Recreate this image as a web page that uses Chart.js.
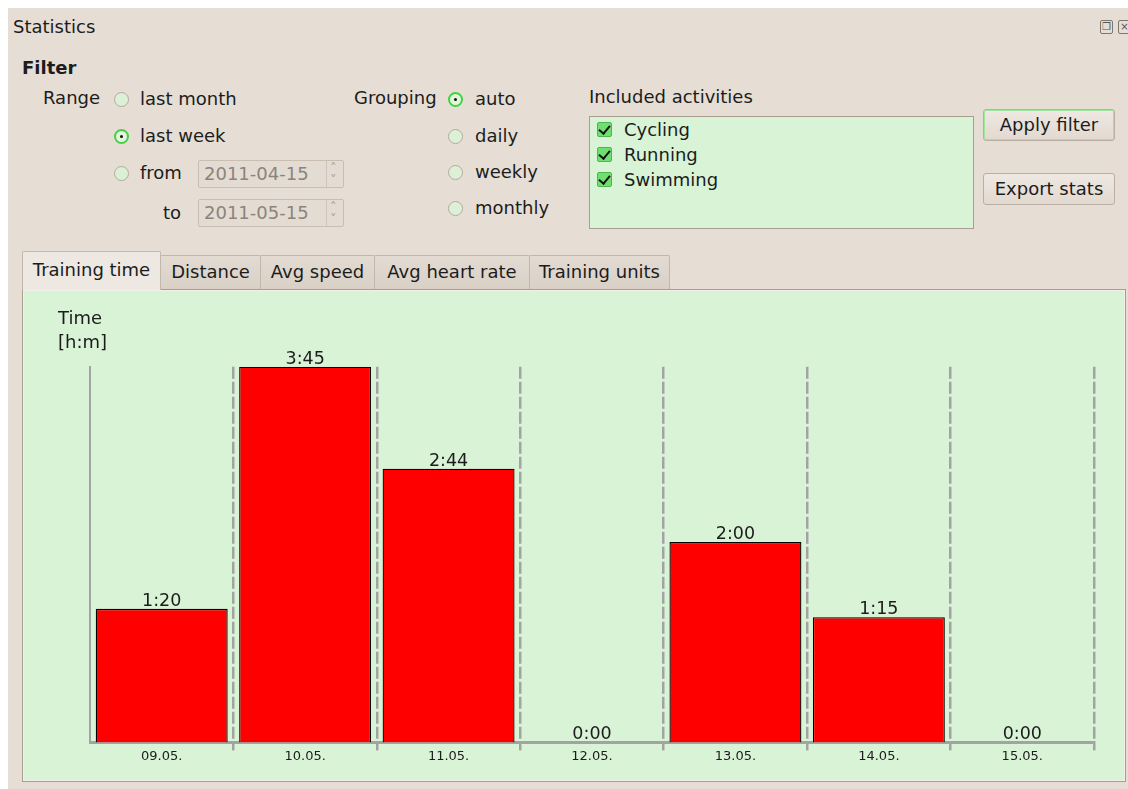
<!DOCTYPE html>
<html>
<head>
<meta charset="utf-8">
<title>Statistics</title>
<script src="https://cdn.jsdelivr.net/npm/chart.js@4.4.1/dist/chart.umd.min.js"></script>
<style>
  html, body { margin: 0; padding: 0; background: #fff; width: 1128px; height: 789px; overflow: hidden; }
  body { font-family: "DejaVu Sans", sans-serif; }
  #win { position: absolute; left: 8px; top: 8px; width: 1130px; height: 790px; background: #e6ded5; }
  .t { position: absolute; font-size: 18px; line-height: 20px; color: #1c1c1c; white-space: nowrap; }
  .radio { position: absolute; width: 13px; height: 13px; border-radius: 50%;
           border: 1px solid #b3aa9f; background: #dcf0d6; }
  .radio.on { border: 2px solid #45d045; width: 11px; height: 11px; background: #e2f5dd; }
  .radio.on::after { content: ""; position: absolute; left: 4px; top: 4px; width: 3px; height: 3px;
                     border-radius: 50%; background: #111; }
  .spin { position: absolute; width: 144px; height: 26px; border: 1px solid #c8beb2; border-radius: 2px;
          background: #e4dcd2; }
  .spin span { position: absolute; left: 5px; top: 3px; font-size: 18px; line-height: 20px; color: #8a847d; }
  .spin i { position: absolute; right: 0; top: 0; width: 16px; height: 26px; border-left: 1px solid #cfc6bb; }
  .spin i::before, .spin i::after { position: absolute; left: 3px; font-style: normal; font-size: 13px;
          color: #a49c93; line-height: 11px; }
  .spin i::before { content: "\02C4"; top: 1px; }
  .spin i::after { content: "\02C5"; top: 13px; }
  .check { position: absolute; width: 13px; height: 13px; background: #6fe06f; border: 1px solid #4cb84c;
           border-radius: 2px; }
  .check::after { content: ""; position: absolute; left: 3px; top: 0px; width: 5px; height: 9px;
                  border: solid #111; border-width: 0 2px 2px 0; transform: rotate(40deg); }
  .btn { position: absolute; width: 130px; height: 30px; border: 1px solid #b9afa4; border-radius: 3px;
         background: linear-gradient(#efe9e3, #e2d9cf); font-size: 18px; line-height: 30px; text-align: center;
         color: #1c1c1c; }
  .btn.def { box-shadow: inset 0 0 0 1px #9be89b; }
  .tab { position: absolute; top: 255px; height: 33px; border: 1px solid #c2b7aa; border-bottom: none;
         background: linear-gradient(#e3dbd2, #d9d0c6); font-size: 18px; line-height: 32px; text-align: center;
         color: #1c1c1c; border-radius: 2px 2px 0 0; }
  .tab.sel { top: 251px; height: 38px; background: #ede8e2; line-height: 36px; z-index: 2; }
  #panel { position: absolute; left: 22px; top: 289px; width: 1102px; height: 491px; background: #d9f3d6;
           border: 1px solid #a99d90; box-shadow: inset 0 0 0 1px #f4efe9; }
  #list { position: absolute; left: 589px; top: 116px; width: 383px; height: 111px; background: #d9f3d6;
          border: 1px solid #a99d90; }
  .wicon { position: absolute; top: 20px; width: 11px; height: 12px; border: 1px solid #7d7770; border-radius: 2px;
           font-size: 10px; line-height: 12px; text-align: center; color: #555; }
  #chartBox { position: absolute; left: 24px; top: 291px; width: 1100px; height: 489px; }
</style>
</head>
<body>
<div id="win"></div>

<div class="t" style="left:13px; top:17px;">Statistics</div>
<div class="wicon" style="left:1100px;">&#x2750;</div>
<div class="wicon" style="left:1118px;">&#x00D7;</div>

<div class="t" style="left:22px; top:58px; font-weight:bold;">Filter</div>

<div class="t" style="left:43px; top:88px;">Range</div>
<div class="radio" style="left:114px; top:92px;"></div>
<div class="t" style="left:140px; top:89px;">last month</div>
<div class="radio on" style="left:114px; top:129px;"></div>
<div class="t" style="left:140px; top:126px;">last week</div>
<div class="radio" style="left:114px; top:166px;"></div>
<div class="t" style="left:140px; top:163px;">from</div>
<div class="spin" style="left:198px; top:160px;"><span>2011-04-15</span><i></i></div>
<div class="t" style="left:163px; top:203px;">to</div>
<div class="spin" style="left:198px; top:199px;"><span>2011-05-15</span><i></i></div>

<div class="t" style="left:354px; top:88px;">Grouping</div>
<div class="radio on" style="left:448px; top:92px;"></div>
<div class="t" style="left:475px; top:89px;">auto</div>
<div class="radio" style="left:448px; top:129px;"></div>
<div class="t" style="left:475px; top:126px;">daily</div>
<div class="radio" style="left:448px; top:165px;"></div>
<div class="t" style="left:475px; top:162px;">weekly</div>
<div class="radio" style="left:448px; top:201px;"></div>
<div class="t" style="left:475px; top:198px;">monthly</div>

<div class="t" style="left:589px; top:87px;">Included activities</div>
<div id="list"></div>
<div class="check" style="left:597px; top:122px;"></div>
<div class="t" style="left:624px; top:120px;">Cycling</div>
<div class="check" style="left:597px; top:147px;"></div>
<div class="t" style="left:624px; top:145px;">Running</div>
<div class="check" style="left:597px; top:172px;"></div>
<div class="t" style="left:624px; top:170px;">Swimming</div>

<div class="btn def" style="left:983px; top:109px;">Apply filter</div>
<div class="btn" style="left:983px; top:173px;">Export stats</div>

<div id="panel"></div>
<div class="tab sel" style="left:22px; width:137px;">Training time</div>
<div class="tab" style="left:160px; width:99px;">Distance</div>
<div class="tab" style="left:260px; width:113px;">Avg speed</div>
<div class="tab" style="left:374px; width:154px;">Avg heart rate</div>
<div class="tab" style="left:529px; width:139px;">Training units</div>

<div id="chartBox"><canvas id="timeChart"></canvas></div>

<script>
const dayLabels = ["09.05.", "10.05.", "11.05.", "12.05.", "13.05.", "14.05.", "15.05."];
const trainingMinutes = [80, 225, 164, 0, 120, 75, 0];
const axisTitle = ["Time", "[h:m]"];
const yMax = 225;

// minutes -> "h:mm"
function fmtTime(min) {
  const h = Math.floor(min / 60);
  const m = min % 60;
  return h + ":" + (m < 10 ? "0" + m : m);
}

const gridGrey = "#a3a3a3";

// draws the h:mm value on top of each bar
const valueLabels = {
  id: "valueLabels",
  afterDatasetsDraw(chart) {
    const ctx = chart.ctx;
    const meta = chart.getDatasetMeta(0);
    ctx.save();
    ctx.font = "17.5px 'DejaVu Sans'";
    ctx.fillStyle = "#1c1c1c";
    ctx.textAlign = "center";
    ctx.textBaseline = "alphabetic";
    meta.data.forEach((bar, i) => {
      ctx.fillText(fmtTime(trainingMinutes[i]), bar.x, bar.y - 3);
    });
    ctx.restore();
  }
};

document.addEventListener("DOMContentLoaded", () => {
  const canvas = document.getElementById("timeChart");
  new Chart(canvas.getContext("2d"), {
    type: "bar",
    data: {
      labels: dayLabels,
      datasets: [{
        label: "Training time",
        data: trainingMinutes,
        backgroundColor: "#ff0000",
        borderColor: "#000000",
        borderWidth: 1.3,
        borderSkipped: "bottom",
        barPercentage: 0.92,
        categoryPercentage: 1.0
      }]
    },
    options: {
      responsive: true,
      maintainAspectRatio: false,
      animation: false,
      layout: { padding: { left: 34, right: 30, top: 0, bottom: 18 } },
      plugins: {
        legend: { display: false },
        tooltip: { enabled: false },
        title: {
          display: true,
          text: axisTitle,
          align: "start",
          color: "#1c1c1c",
          font: { family: "DejaVu Sans", size: 18, weight: "normal", lineHeight: 1.3 },
          padding: { top: 17, bottom: 12 }
        }
      },
      scales: {
        x: {
          grid: {
            offset: true,
            color: (c) => c.index === 0 ? "rgba(0,0,0,0)" : gridGrey,
            tickColor: (c) => c.index === 0 ? "rgba(0,0,0,0)" : gridGrey,
            lineWidth: 2.5,
            tickWidth: 2.5,
            tickLength: 8
          },
          border: { display: true, color: gridGrey, width: 3, dash: [12, 3] },
          ticks: { color: "#1c1c1c", font: { family: "DejaVu Sans", size: 13 }, padding: -2 }
        },
        y: {
          min: 0,
          max: yMax,
          ticks: { display: false },
          grid: { display: false, drawTicks: false },
          border: { display: true, color: gridGrey, width: 2 },
          afterFit: (s) => { s.width = 32; }
        }
      }
    },
    plugins: [valueLabels]
  });
});
</script>
</body>
</html>
